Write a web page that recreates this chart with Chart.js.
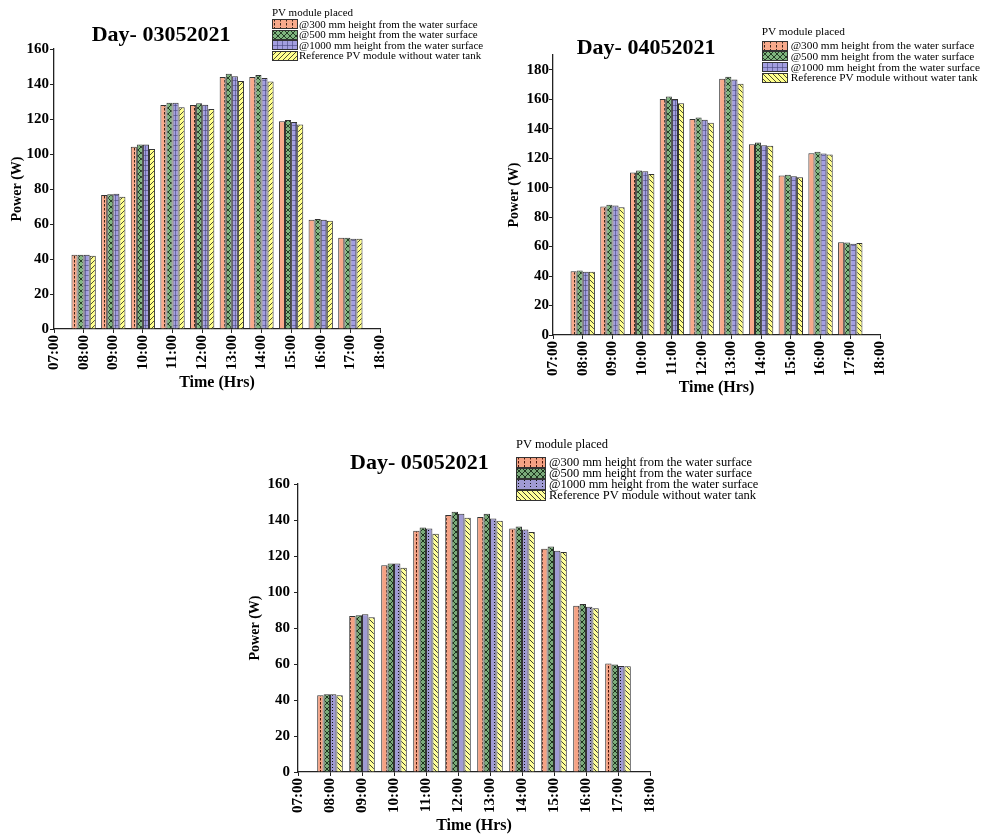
<!DOCTYPE html>
<html>
<head>
<meta charset="utf-8">
<script src="https://cdn.jsdelivr.net/npm/chart.js@4.4.0/dist/chart.umd.min.js"></script>
<style>
  body { margin: 0; background: #fff; }
  #page { position: relative; width: 987px; height: 837px; overflow: hidden;
          font-family: "Liberation Serif", "Times New Roman", serif; color: #000; }
  #page canvas.plot { position: absolute; }
  .day { position: absolute; font-weight: bold; font-size: 22px; line-height: 22px; white-space: nowrap; }
  .lg-title { position: absolute; white-space: nowrap; }
  .lg { position: absolute; }
  .lg-row { display: flex; align-items: center; white-space: nowrap; }
  .lg-row canvas { display: block; }
</style>
</head>
<body>
<div id="page">
  <canvas id="c1" class="plot" width="400" height="400" style="left:0;top:0"></canvas>
  <canvas id="c2" class="plot" width="400" height="410" style="left:500px;top:0"></canvas>
  <canvas id="c3" class="plot" width="430" height="407" style="left:240px;top:430px"></canvas>
</div>
<script>
// x categories (07:00 and 18:00 are empty axis ends)
const hours = ["07:00", "08:00", "09:00", "10:00", "11:00", "12:00",
               "13:00", "14:00", "15:00", "16:00", "17:00", "18:00"];
const seriesNames = [
  "@300 mm height from the water surface",
  "@500 mm height from the water surface",
  "@1000 mm height from the water surface",
  "Reference PV module without water tank",
];
const legendTitle = "PV module placed";
const dayTitles = ["Day- 03052021", "Day- 04052021", "Day- 05052021"];
const yMax = [160, 190, 160];
const yTicks1 = [0, 20, 40, 60, 80, 100, 120, 140, 160];
const yTicks2 = [0, 20, 40, 60, 80, 100, 120, 140, 160, 180];
const yTicks3 = [0, 20, 40, 60, 80, 100, 120, 140, 160];

// power (W), 08:00 .. 17:00
// day 03052021
const d1_300 = [42.5, 76.6, 104.2, 128.0, 128.0, 144.0, 144.0, 118.7, 62.5, 52.2];
const d1_500 = [42.5, 77.0, 105.5, 129.3, 129.0, 145.9, 145.1, 119.4, 62.9, 52.2];
const d1_1000 = [42.5, 77.3, 105.5, 129.3, 128.2, 144.4, 143.4, 118.3, 62.5, 51.6];
const d1_ref = [41.9, 75.6, 102.9, 126.7, 125.7, 141.7, 141.5, 116.9, 61.9, 51.6];
// day 04052021
const d2_300 = [43.2, 87.2, 110.3, 160.1, 146.5, 173.9, 129.5, 108.2, 123.4, 62.9];
const d2_500 = [43.7, 88.3, 111.6, 161.9, 147.6, 175.2, 130.6, 108.7, 124.3, 62.7];
const d2_1000 = [43.0, 87.8, 111.2, 160.1, 146.0, 173.4, 128.8, 107.8, 123.2, 62.0];
const d2_ref = [43.0, 86.7, 109.3, 157.3, 144.0, 170.5, 128.4, 107.1, 122.5, 62.5];
// day 05052021
const d3_300 = [42.6, 86.6, 114.8, 134.0, 142.8, 141.6, 135.3, 124.0, 92.3, 60.3];
const d3_500 = [43.2, 87.1, 115.9, 135.9, 144.6, 143.5, 136.4, 125.3, 93.4, 59.7];
const d3_1000 = [43.2, 87.7, 115.9, 135.3, 143.5, 140.9, 134.7, 122.9, 91.8, 58.9];
const d3_ref = [42.6, 86.0, 113.5, 132.3, 141.3, 139.6, 133.4, 122.2, 91.0, 58.8];

const FONT = '"Liberation Serif", "Times New Roman", serif';
Chart.defaults.font.family = FONT;
Chart.defaults.color = "#000";

// fill textures like the Origin plot
const styles12 = [
  { kind: "vdash", bg: "rgb(248,170,140)", fg: "#3b2318" },
  { kind: "cross", bg: "rgb(128,182,128)", fg: "#1b301b" },
  { kind: "grid", bg: "rgb(163,158,224)", fg: "rgba(70,70,125,0.6)" },
  { kind: "fwd", bg: "rgb(255,255,140)", fg: "#3a3a2a" },
];
const styles2 = [styles12[0], styles12[1], styles12[2],
  { kind: "back", bg: "rgb(255,255,140)", fg: "#3a3a2a" }];
const styles3 = [
  { kind: "vdash", bg: "rgb(245,162,132)", fg: "#4a1408" },
  { kind: "cross", bg: "rgb(122,170,122)", fg: "#142814" },
  { kind: "vdot", bg: "rgb(160,155,212)", fg: "#111" },
  { kind: "back", bg: "rgb(255,255,150)", fg: "#2a2a2a" },
];

function makeTile(st) {
  const t = document.createElement("canvas");
  let w = 5, h = 5;
  if (st.kind === "vdash") { w = 6; h = 4; }
  if (st.kind === "vdot") { w = 6; h = 3; }
  if (st.kind === "cross") { w = 6; h = 6; }
  t.width = w; t.height = h;
  const c = t.getContext("2d");
  c.fillStyle = st.bg;
  c.fillRect(0, 0, w, h);
  c.fillStyle = st.fg;
  c.strokeStyle = st.fg;
  c.lineWidth = 0.9;
  const line = (a, b, d, e) => { c.beginPath(); c.moveTo(a, b); c.lineTo(d, e); c.stroke(); };
  if (st.kind === "vdash") c.fillRect(2, 0, 1, 2.5);
  else if (st.kind === "vdot") c.fillRect(2, 1, 1, 1);
  else if (st.kind === "grid") { c.fillRect(0, 0, w, 1); c.fillRect(0, 0, 1, h); }
  else if (st.kind === "cross") { line(0, 0, w, h); line(w, 0, 0, h); }
  else if (st.kind === "fwd") { line(0, h, w, 0); line(-1, 1, 1, -1); line(w - 1, h + 1, w + 1, h - 1); }
  else if (st.kind === "back") { line(0, 0, w, h); line(w - 1, -1, w + 1, 1); line(-1, h - 1, 1, h + 1); }
  return t;
}

function drawChart(id, series, styles, o) {
  const cv = document.getElementById(id);
  const ctx = cv.getContext("2d");
  return new Chart(cv, {
    type: "bar",
    data: {
      labels: hours,
      datasets: series.map((s, i) => ({
        label: seriesNames[i],
        data: [null, ...s, null],
        backgroundColor: ctx.createPattern(makeTile(styles[i]), "repeat"),
        borderColor: "#333",
        borderWidth: 1,
        categoryPercentage: o.cat,
        barPercentage: 1.0,
      })),
    },
    options: {
      responsive: false,
      animation: false,
      layout: { padding: o.pad },
      plugins: { legend: { display: false }, tooltip: { enabled: false } },
      scales: {
        x: {
          offset: false,
          grid: { offset: false, drawOnChartArea: false, tickLength: 4, color: "#222" },
          border: { color: "#222", width: 1.3 },
          ticks: { minRotation: 90, maxRotation: 90, autoSkip: false, padding: 2,
                   font: { size: 15, weight: "bold" } },
          title: { display: true, text: "Time (Hrs)", font: { size: 16, weight: "bold" },
                   padding: { top: 0, bottom: o.xTitlePad } },
          afterFit: (s) => { s.height = o.xH; },
        },
        y: {
          min: 0,
          max: o.yMax,
          grid: { drawOnChartArea: false, tickLength: 4, color: "#222" },
          border: { color: "#222", width: 1.3 },
          ticks: { padding: o.yTickPad, font: { size: 15, weight: "bold" } },
          afterBuildTicks: (s) => { s.ticks = o.yTicks.map((v) => ({ value: v })); },
          title: { display: true, text: "Power (W)", font: { size: 14, weight: "bold" },
                   padding: { top: o.yTitlePad, bottom: 0 } },
          afterFit: (s) => { s.width = o.yW; },
        },
      },
    },
  });
}

drawChart("c1", [d1_300, d1_500, d1_1000, d1_ref], styles12, {
  yMax: yMax[0], yTicks: yTicks1, cat: 0.82, pad: { left: 0, right: 12, top: 49, bottom: 0 },
  yW: 54, xH: 71, yTickPad: 1, yTitlePad: 8.6, xTitlePad: 7.4,
});
drawChart("c2", [d2_300, d2_500, d2_1000, d2_ref], styles2, {
  yMax: yMax[1], yTicks: yTicks2, cat: 0.82, pad: { left: 0, right: 14, top: 55, bottom: 0 },
  yW: 53, xH: 75, yTickPad: 0, yTitlePad: 5.6, xTitlePad: 12.4,
});
drawChart("c3", [d3_300, d3_500, d3_1000, d3_ref], styles3, {
  yMax: yMax[2], yTicks: yTicks3, cat: 0.8, pad: { left: 0, right: 15, top: 54, bottom: 0 },
  yW: 58, xH: 65, yTickPad: 4, yTitlePad: 7.1, xTitlePad: 1.4,
});

// titles and legends as html text
const page = document.getElementById("page");
const titlePos = [[91.7, 23.3], [576.7, 35.9], [350, 450.9]];
dayTitles.forEach((t, i) => {
  const d = document.createElement("div");
  d.className = "day";
  d.style.left = titlePos[i][0] + "px";
  d.style.top = titlePos[i][1] + "px";
  d.textContent = t;
  page.appendChild(d);
});

const legends = [
  { styles: styles12, left: 272, titleTop: 6.8, rowsTop: 18.8, rowH: 10.5, sw: 26, sh: 10, gap: 1, size: 11 },
  { styles: styles2, left: 761.7, titleTop: 25.5, rowsTop: 40.2, rowH: 10.7, sw: 26, sh: 10, gap: 3, size: 11.3 },
  { styles: styles3, left: 516, titleTop: 438, rowsTop: 456.8, rowH: 11, sw: 30, sh: 10.5, gap: 3, size: 12.5 },
];
legends.forEach((L) => {
  const t = document.createElement("div");
  t.className = "lg-title";
  t.style.left = L.left + "px";
  t.style.top = L.titleTop + "px";
  t.style.fontSize = L.size + "px";
  t.style.lineHeight = L.size + "px";
  t.textContent = legendTitle;
  page.appendChild(t);

  const box = document.createElement("div");
  box.className = "lg";
  box.style.left = L.left + "px";
  box.style.top = L.rowsTop + "px";
  seriesNames.forEach((name, i) => {
    const row = document.createElement("div");
    row.className = "lg-row";
    row.style.height = L.rowH + "px";
    row.style.fontSize = L.size + "px";
    row.style.lineHeight = L.rowH + "px";
    const sw = document.createElement("canvas");
    sw.width = L.sw;
    sw.height = Math.round(L.sh);
    sw.style.marginRight = L.gap + "px";
    const c = sw.getContext("2d");
    c.fillStyle = c.createPattern(makeTile(L.styles[i]), "repeat");
    c.fillRect(0, 0, sw.width, sw.height);
    c.strokeStyle = "#333";
    c.lineWidth = 1;
    c.strokeRect(0.5, 0.5, sw.width - 1, sw.height - 1);
    const span = document.createElement("span");
    span.textContent = name;
    row.appendChild(sw);
    row.appendChild(span);
    box.appendChild(row);
  });
  page.appendChild(box);
});
</script>
</body>
</html>
